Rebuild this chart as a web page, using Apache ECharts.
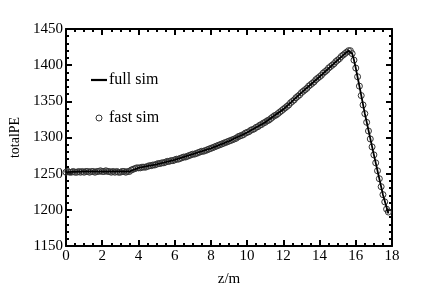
<!DOCTYPE html>
<html>
<head>
<meta charset="utf-8">
<script src="https://cdn.jsdelivr.net/npm/echarts@6/dist/echarts.min.js"></script>
<style>html,body{margin:0;padding:0;background:#fff;}#c{width:436px;height:292px;}</style>
</head>
<body>
<div id="c"></div>
<script>
// x ticks / y ticks
const xTicks = [0, 2, 4, 6, 8, 10, 12, 14, 16, 18];
const yTicks = [1150, 1200, 1250, 1300, 1350, 1400, 1450];
// fast sim: z starts at 0, step 0.1
const fastZStart = 0;
const fastZStep = 0.1;
const fastSim = [
  1252,1253,1252,1252,1253,1252,1252,1253,1252,1253,
  1252,1253,1253,1252,1253,1253,1252,1253,1253,1254,
  1253,1253,1254,1253,1253,1252,1253,1252,1253,1252,
  1252,1253,1253,1252,1253,1253,1255,1256,1257,1258,
  1258,1258,1259,1259,1259,1260,1261,1261,1262,1262,
  1263,1264,1264,1265,1265,1266,1267,1267,1268,1268,
  1269,1270,1270,1271,1272,1273,1273,1274,1275,1276,
  1277,1277,1278,1279,1280,1281,1281,1282,1283,1284,
  1285,1286,1287,1288,1289,1290,1291,1292,1293,1294,
  1295,1296,1297,1298,1299,1301,1302,1303,1304,1306,
  1307,1308,1310,1311,1312,1314,1315,1317,1318,1320,
  1321,1323,1324,1326,1328,1330,1331,1333,1335,1337,
  1339,1341,1343,1345,1348,1350,1352,1355,1357,1359,
  1362,1364,1366,1368,1371,1373,1375,1377,1380,1382,
  1384,1386,1389,1391,1393,1396,1398,1400,1402,1405,
  1407,1409,1412,1414,1416,1418,1420,1420,1416,1407,
  1396,1384,1371,1358,1345,1333,1321,1309,1298,1287,
  1276,1265,1254,1243,1232,1221,1211,1201,1197
];
// full sim: z and values
const fullZ = [0,1,2,3,3.5,4,5,6,7,8,9,10,11,12,13,14,15,15.4,15.6,15.7,15.8,15.9,16.0,16.2,16.5,17,17.5,17.8];
const fullSim = [1252,1253,1253,1253,1253,1258,1263,1269,1277,1285,1295,1307,1321,1339,1362,1384,1407,1416,1420,1420,1416,1407,1396,1371,1333,1276,1221,1195];

const fastData = fastSim.map((v, i) => [+(fastZStart + i * fastZStep).toFixed(2), v]);
const fullData = fullSim.map((v, i) => [fullZ[i], v]);

const font = '"Liberation Serif", "DejaVu Serif", serif';
const chart = echarts.init(document.getElementById('c'), null, {renderer: 'canvas'});

function xAxisCfg(pos, showLabel) {
  return {
    type: 'value', position: pos, min: xTicks[0], max: xTicks[xTicks.length-1], interval: 2,
    axisLine: {show: true, onZero: false, lineStyle: {color: '#000', width: 2}},
    axisTick: {show: true, inside: true, length: 6, lineStyle: {color: '#000', width: 2}},
    minorTick: {show: true, splitNumber: 4, length: 3, lineStyle: {color: '#000', width: 2}},
    splitLine: {show: false},
    axisLabel: {show: showLabel, color: '#000', fontFamily: font, fontSize: 15, margin: 3,
      formatter: v => String(v)},
    name: showLabel ? 'z/m' : '', nameLocation: 'middle', nameGap: 26,
    nameTextStyle: {color: '#000', fontFamily: font, fontSize: 15}
  };
}
function yAxisCfg(pos, showLabel) {
  return {
    type: 'value', position: pos, min: yTicks[0], max: yTicks[yTicks.length-1], interval: 50,
    axisLine: {show: true, onZero: false, lineStyle: {color: '#000', width: 2}},
    axisTick: {show: true, inside: true, length: 6, lineStyle: {color: '#000', width: 2}},
    minorTick: {show: true, splitNumber: 5, length: 3, lineStyle: {color: '#000', width: 2}},
    splitLine: {show: false},
    axisLabel: {show: showLabel, color: '#000', fontFamily: font, fontSize: 15, margin: 3,
      formatter: v => String(v)},
    name: showLabel ? 'totalPE' : '', nameLocation: 'middle', nameGap: 44, nameRotate: 90,
    nameTextStyle: {color: '#000', fontFamily: font, fontSize: 14}
  };
}

chart.setOption({
  animation: false,
  backgroundColor: '#fff',
  grid: {left: 65, right: 44, top: 29, bottom: 45, containLabel: false},
  xAxis: [xAxisCfg('bottom', true), xAxisCfg('top', false)],
  yAxis: [yAxisCfg('left', true), yAxisCfg('right', false)],
  legend: {
    orient: 'vertical', left: 86, top: 67, itemGap: 22, itemWidth: 16, itemHeight: 6,
    textStyle: {color: '#000', fontFamily: font, fontSize: 16, padding: [0, 0, 0, -3]},
    data: [
      {name: 'full sim', icon: 'path://M0,0 L16,0 L16,2.2 L0,2.2 Z', itemStyle: {color: '#000'}},
      {name: 'fast sim', icon: 'circle', itemStyle: {color: 'rgba(255,255,255,0)', borderColor: '#333', borderWidth: 1, opacity: 1}}
    ]
  },
  series: [
    {
      name: 'full sim', type: 'line', xAxisIndex: 0, yAxisIndex: 0, data: fullData,
      showSymbol: false, symbol: 'none', smooth: false,
      lineStyle: {color: '#000', width: 1.8}, itemStyle: {color: '#000'}, z: 3
    },
    {
      name: 'fast sim', type: 'scatter', xAxisIndex: 0, yAxisIndex: 0, data: fastData,
      symbol: 'circle', symbolSize: 6,
      itemStyle: {color: 'rgba(255,255,255,0)', borderColor: '#333', borderWidth: 1, opacity: 1}, z: 2
    }
  ]
});
</script>
</body>
</html>
